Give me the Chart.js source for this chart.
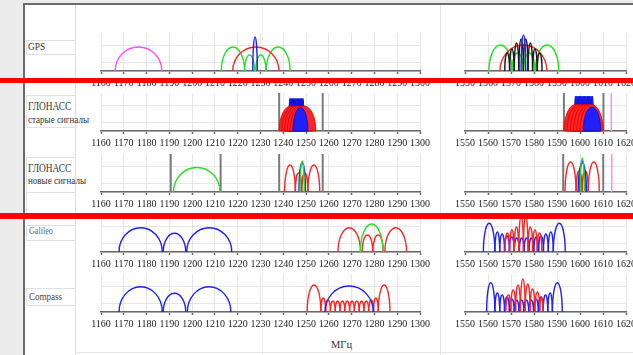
<!DOCTYPE html>
<html><head><meta charset="utf-8">
<script src="https://cdn.jsdelivr.net/npm/chart.js@4/dist/chart.umd.min.js"></script>
<style>
body{margin:0;width:633px;height:355px;overflow:hidden;position:relative;background:#fff;font-family:"Liberation Serif","Times New Roman",serif}
.abs{position:absolute}
canvas{position:absolute}
.lbl{position:absolute;color:#333;white-space:nowrap;line-height:1;transform-origin:left center}
.cell{position:absolute;border:1px solid #e0e0e0;box-sizing:border-box}
</style></head><body>
<div class="abs" style="left:0;top:0;width:24px;height:355px;background:#ececec"></div>
<div class="abs" style="left:0;top:0;width:633px;height:3px;background:#ececec"></div>
<div class="abs" style="left:23px;top:3px;width:2px;height:352px;background:#6a6a6a"></div>
<div class="abs" style="left:23px;top:3px;width:610px;height:2px;background:#6a6a6a"></div>
<div class="abs" style="left:75px;top:5px;width:1px;height:350px;background:#e0e0e0"></div>
<div class="abs" style="left:440px;top:5px;width:1px;height:350px;background:#e4e4e4"></div>
<div class="abs" style="left:262px;top:5px;width:1px;height:350px;background:#f0f0f0"></div>
<div class="abs" style="left:75px;top:352px;width:558px;height:1px;background:#e6e6e6"></div>
<div class="cell" style="left:26px;top:40px;width:50px;height:15px"></div>
<div class="cell" style="left:26px;top:95px;width:50px;height:33px"></div>
<div class="cell" style="left:26px;top:157px;width:50px;height:36px"></div>
<div class="cell" style="left:26px;top:192px;width:50px;height:22px"></div>
<div class="cell" style="left:26px;top:225px;width:50px;height:16px"></div>
<div class="cell" style="left:26px;top:288px;width:50px;height:18px"></div>

<div class="lbl" style="left:28px;top:41px;font-size:11px;transform:scaleX(0.85)">GPS</div>
<div class="lbl" style="left:28px;top:100px;font-size:12px;transform:scaleX(0.78)">ГЛОНАСС</div>
<div class="lbl" style="left:28px;top:114.5px;font-size:10.5px;transform:scaleX(0.86)">старые сигналы</div>
<div class="lbl" style="left:28px;top:162px;font-size:12px;transform:scaleX(0.78)">ГЛОНАСС</div>
<div class="lbl" style="left:28px;top:176px;font-size:10.5px;transform:scaleX(0.86)">новые сигналы</div>
<div class="lbl" style="left:29px;top:227px;font-size:9.5px;color:#666;transform:scaleX(0.85)">Galileo</div>
<div class="lbl" style="left:29px;top:292px;font-size:10px;color:#444;transform:scaleX(0.9)">Compass</div>
<div class="lbl" style="left:331px;top:340px;font-size:10.5px;color:#333">МГц</div>

<script>
// ---------- axis data ----------
const leftTicks  = [1160,1170,1180,1190,1200,1210,1220,1230,1240,1250,1260,1270,1280,1290,1300];
const rightTicks = [1550,1560,1570,1580,1590,1600,1610,1620];
const gridLevels = [0, 8.5, 26];

// ---------- lobes: [start MHz, end MHz, height] ----------
// GPS
const gpsL5      = [[1166.2,1186.7,24]];
const gpsL2M     = [[1212.8,1223.0,24],[1223.0,1227.4,16],[1227.9,1232.4,16],[1232.5,1243.0,24]];
const gpsL2P     = [[1217.8,1238.1,24]];
const gpsL2C     = [[1226.6,1228.6,34]];
const gpsL1M     = [[1560.4,1570.4,26],[1570.4,1575.4,18],[1575.4,1580.4,18],[1580.6,1590.8,26]];
const gpsL1P     = [[1565.2,1585.6,26]];
const gpsL1C     = [[1567.3,1569.4,18],[1569.4,1571.4,22],[1571.4,1573.4,28],[1573.4,1575.4,32],[1575.4,1577.4,32],[1577.4,1579.4,28],[1579.4,1581.4,22],[1581.4,1583.5,18]];
const gpsL1CA    = [[1574.4,1576.4,36]];
// ГЛОНАСС, старые сигналы
const glnL2Edges = [1238.2,1257.3];
const glnL2CA    = [[1242.43,1243.45,32.5],[1242.87,1243.89,32.5],[1243.30,1244.32,32.5],[1243.74,1244.76,32.5],[1244.18,1245.20,32.5],[1244.62,1245.64,32.5],[1245.05,1246.07,32.5],[1245.49,1246.51,32.5],[1245.93,1246.95,32.5],[1246.37,1247.39,32.5],[1246.80,1247.82,32.5],[1247.24,1248.26,32.5],[1247.68,1248.70,32.5],[1248.12,1249.14,32.5]];
const glnL2P     = [[1238.2,1248.4,25],[1239.4,1249.6,25],[1240.6,1250.8,25],[1241.8,1252.0,25],[1243.0,1253.2,25],[1244.1,1254.3,25]];
const glnL2Pb    = [[1244.3,1250.8,23.5]];
const glnL1Edges = [1593.0,1610.2];
const glnL1Mark  = [1613.6];
const glnL1CA    = [[1597.55,1598.57,35],[1598.12,1599.14,35],[1598.68,1599.70,35],[1599.24,1600.26,35],[1599.80,1600.82,35],[1600.37,1601.39,35],[1600.93,1601.95,35],[1601.49,1602.51,35],[1602.05,1603.07,35],[1602.62,1603.64,35],[1603.18,1604.20,35],[1603.74,1604.76,35],[1604.30,1605.32,35],[1604.87,1605.89,35]];
const glnL1P     = [[1593.0,1603.2,26.5],[1594.4,1604.6,26.5],[1595.8,1606.0,26.5],[1597.2,1607.4,26.5],[1598.6,1608.8,26.5],[1599.9,1610.1,26.5]];
const glnL1Pb    = [[1601.4,1609.0,24]];
// ГЛОНАСС, новые сигналы
const glnNewLeftEdges  = [1190.6,1212.5,1238.2,1257.3];
const glnL3            = [[1191.8,1212.3,24.5]];
const glnL2OCred       = [[1240.6,1245.3,27],[1245.3,1248.1,19],[1248.1,1250.8,19],[1250.8,1256.0,27]];
const glnL2OCblue      = [[1246.9,1249.7,29]];
const glnL2OCgreen     = [[1247.4,1249.2,31]];
const glnNewRightEdges = [1592.7,1610.1];
const glnNewRightMark  = [1613.8];
const glnL1OCred       = [[1593.5,1598.3,30],[1598.3,1600.9,21],[1600.9,1603.6,21],[1603.6,1608.4,30]];
const glnL1OCblue      = [[1599.2,1602.8,29],[1599.8,1602.2,31]];
const glnL1OCgreen     = [[1600.1,1601.9,34]];
// Galileo
const galE5      = [[1167.9,1186.9,24.3],[1187.3,1197.2,18.7],[1197.6,1217.4,24.3]];
const galE6red   = [[1264.0,1273.9,24.3],[1274.6,1279.3,17],[1279.3,1283.9,17],[1284.6,1294.1,24.3]];
const galE6green = [[1273.8,1283.8,28]];
const galE1blue  = [[1558.0,1563.0,28.7],[1563.0,1565.1,20],[1565.1,1567.2,18],[1567.2,1569.3,16],[1569.3,1571.4,15],[1571.4,1573.6,14],[1573.6,1575.7,14],[1575.7,1577.8,14],[1577.8,1579.9,14],[1579.9,1582.0,15],[1582.0,1584.1,16],[1584.1,1586.2,18],[1586.2,1588.4,20],[1588.4,1593.6,28.7]];
const galE1red   = [[1567.4,1569.4,19],[1569.4,1571.4,22],[1571.4,1573.4,25],[1573.4,1575.4,36],[1575.4,1577.4,36],[1577.4,1579.4,25],[1579.4,1581.4,22],[1581.4,1583.4,19]];
// Compass
const cmpB2      = [[1167.9,1186.9,25.3],[1187.3,1197.2,18.7],[1197.9,1217.0,25.3]];
const cmpB3red   = [[1250.5,1256.5,27],[1256.5,1258.6,14],[1258.6,1260.7,12],[1260.7,1262.8,11],[1262.8,1264.9,11],[1264.9,1267.0,11],[1267.0,1269.1,11],[1269.1,1271.2,11],[1271.2,1273.3,11],[1273.3,1275.4,11],[1275.4,1277.5,11],[1277.5,1279.6,12],[1279.6,1281.7,14],[1281.7,1286.8,27]];
const cmpB3blue  = [[1258.3,1279.5,26]];
const cmpB1blue  = [[1559.4,1563.0,29.3],[1563.0,1565.1,19],[1565.1,1567.2,17],[1567.2,1569.3,15],[1569.3,1571.4,13],[1571.4,1573.5,12],[1573.5,1575.6,12],[1575.6,1577.7,12],[1577.7,1579.8,12],[1579.8,1581.9,13],[1581.9,1584.0,15],[1584.0,1586.0,17],[1586.0,1588.0,19],[1588.0,1592.3,29.3]];
const cmpB1red   = [[1567.8,1569.9,17],[1569.9,1572.0,22],[1572.0,1574.1,27],[1574.1,1576.2,33],[1576.2,1578.3,28],[1578.3,1580.4,23],[1580.4,1582.5,20],[1582.5,1584.0,15]];

// ---------- styles ----------
const C = {mag:'#ff4dff', green:'#22e022', red:'#ff2424', blue:'#2020ff', black:'#1a1a1a', grey:'#7a7a7a', pink:'#ff8cff'};

function lobes(arr, color, opt) {
  opt = opt || {};
  return {
    type:'line', lobes:true, fillLobes: !!opt.fill,
    data: arr.map(a => ({x:(a[0]+a[1])/2, y:a[2], lo:a[0], hi:a[1]})),
    borderColor: opt.stroke || color, backgroundColor: color,
    borderWidth: opt.width || 1.4, showLine:false, pointRadius:0, pointHoverRadius:0
  };
}
function marks(freqs, color, w) {
  const d = [];
  freqs.forEach(f => { d.push({x:f,y:0}); d.push({x:f,y:38}); d.push({x:f,y:null}); });
  return {type:'line', data:d, borderColor:color, borderWidth:w||2, pointRadius:0, spanGaps:false, fill:false};
}

const lobePlugin = {
  id:'lobes',
  afterDatasetsDraw(chart) {
    const ctx = chart.ctx, x = chart.scales.x, y = chart.scales.y;
    const y0 = y.getPixelForValue(0);
    chart.data.datasets.forEach(ds => {
      if (!ds.lobes) return;
      ctx.save();
      ctx.lineWidth = ds.borderWidth; ctx.strokeStyle = ds.borderColor; ctx.fillStyle = ds.backgroundColor;
      ds.data.forEach(p => {
        const xl = x.getPixelForValue(p.lo), xr = x.getPixelForValue(p.hi);
        const yt = y.getPixelForValue(p.y);
        ctx.beginPath();
        ctx.ellipse((xl+xr)/2, y0, Math.max((xr-xl)/2,0.1), Math.max(y0-yt,0.1), 0, Math.PI, 2*Math.PI);
        if (ds.fillLobes) { ctx.closePath(); ctx.fill(); }
        ctx.stroke();
      });
      ctx.restore();
    });
  }
};

const PAD_L = 16, PAD_R = 16, PAD_T = 8, AXIS_H = 22, AREA_H = 38;
function makePanel(cfg) {
  const c = document.createElement('canvas');
  const areaW = cfg.px1 - cfg.px0;
  c.width = areaW + PAD_L + PAD_R;
  c.height = PAD_T + AREA_H + AXIS_H;
  document.body.appendChild(c);
  const ticks = cfg.ticks;
  const chart = new Chart(c, {
    type:'line',
    data:{datasets: cfg.datasets},
    options:{
      responsive:false, animation:false, devicePixelRatio:1,
      layout:{padding:{left:PAD_L, right:PAD_R, top:PAD_T, bottom:0}},
      plugins:{legend:{display:false}, tooltip:{enabled:false}},
      events:[],
      scales:{
        x:{type:'linear', min:ticks[0], max:ticks[ticks.length-1],
           afterBuildTicks: s => { s.ticks = ticks.map(v => ({value:v})); },
           afterFit: s => { s.height = AXIS_H; },
           grid:{color:'#e6e6e6', lineWidth:1, drawTicks:true, tickLength:3, tickColor:'#6a6a6a', tickWidth:1.5},
           border:{display:true, color:'#6a6a6a', width:1.5},
           ticks:{autoSkip:false, maxRotation:0, minRotation:0, padding:3, color:'#1a1a1a',
                  font:{family:'Liberation Serif', size:10}, callback: v => String(v)}},
        y:{type:'linear', min:0, max:38, display:true,
           afterBuildTicks: s => { s.ticks = gridLevels.map(v => ({value:v})); },
           afterFit: s => { s.width = 0; },
           grid:{color:'#e6e6e6', lineWidth:1, drawTicks:false},
           border:{display:false},
           ticks:{display:false}}
      }
    },
    plugins:[lobePlugin]
  });
  const lx = chart.scales.x.getPixelForValue(ticks[0]);
  const ly = chart.scales.y.getPixelForValue(0);
  c.style.left = Math.round(cfg.px0 - lx) + 'px';
  c.style.top = Math.round(cfg.base - ly) + 'px';
}

const LX0 = 101, LX1 = 420, RX0 = 465, RX1 = 626;
const bases = [71, 131, 192, 252, 312];

// GPS
makePanel({px0:LX0, px1:LX1, base:bases[0], ticks:leftTicks, datasets:[
  lobes(gpsL5, C.mag), lobes(gpsL2M, C.green), lobes(gpsL2P, C.red), lobes(gpsL2C, C.blue)]});
makePanel({px0:RX0, px1:RX1, base:bases[0], ticks:rightTicks, datasets:[
  lobes(gpsL1M, C.green), lobes(gpsL1P, C.red), lobes(gpsL1C, C.black), lobes(gpsL1CA, C.blue)]});
// ГЛОНАСС старые
makePanel({px0:LX0, px1:LX1, base:bases[1], ticks:leftTicks, datasets:[
  marks(glnL2Edges, C.grey),
  lobes(glnL2CA, C.blue, {fill:true, stroke:'#1010e0', width:1}),
  lobes(glnL2P, C.red, {fill:true, stroke:'#d80000', width:0.8}),
  lobes(glnL2Pb, C.blue, {fill:true, stroke:'#1010e0', width:1})]});
makePanel({px0:RX0, px1:RX1, base:bases[1], ticks:rightTicks, datasets:[
  marks(glnL1Edges, C.grey), marks(glnL1Mark, C.pink, 1.5),
  lobes(glnL1CA, C.blue, {fill:true, stroke:'#1010e0', width:1}),
  lobes(glnL1P, C.red, {fill:true, stroke:'#d80000', width:0.8}),
  lobes(glnL1Pb, C.blue, {fill:true, stroke:'#1010e0', width:1})]});
// ГЛОНАСС новые
makePanel({px0:LX0, px1:LX1, base:bases[2], ticks:leftTicks, datasets:[
  marks(glnNewLeftEdges, C.grey),
  lobes(glnL3, C.green), lobes(glnL2OCred, C.red), lobes(glnL2OCblue, C.blue), lobes(glnL2OCgreen, C.green)]});
makePanel({px0:RX0, px1:RX1, base:bases[2], ticks:rightTicks, datasets:[
  marks(glnNewRightEdges, C.grey), marks(glnNewRightMark, C.pink, 1.5),
  lobes(glnL1OCred, C.red), lobes(glnL1OCblue, C.blue), lobes(glnL1OCgreen, C.green)]});
// Galileo
makePanel({px0:LX0, px1:LX1, base:bases[3], ticks:leftTicks, datasets:[
  lobes(galE5, C.blue), lobes(galE6red, C.red), lobes(galE6green, C.green)]});
makePanel({px0:RX0, px1:RX1, base:bases[3], ticks:rightTicks, datasets:[
  lobes(galE1blue, C.blue), lobes(galE1red, C.red)]});
// Compass
makePanel({px0:LX0, px1:LX1, base:bases[4], ticks:leftTicks, datasets:[
  lobes(cmpB2, C.blue), lobes(cmpB3red, C.red), lobes(cmpB3blue, C.blue)]});
makePanel({px0:RX0, px1:RX1, base:bases[4], ticks:rightTicks, datasets:[
  lobes(cmpB1blue, C.blue), lobes(cmpB1red, C.red)]});
</script>
<div class="abs" style="left:0;top:78px;width:633px;height:5px;background:#ff0000;z-index:10"></div>
<div class="abs" style="left:0;top:213px;width:633px;height:6px;background:#ff0000;z-index:10"></div>
</body></html>
